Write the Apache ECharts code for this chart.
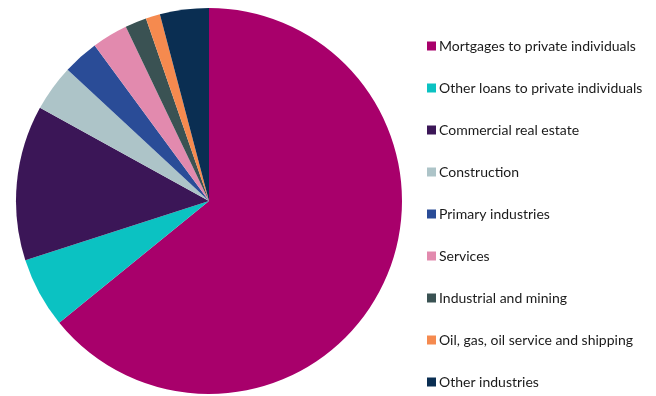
<!DOCTYPE html>
<html>
<head>
<meta charset="utf-8">
<script src="https://cdn.jsdelivr.net/npm/echarts@6/dist/echarts.min.js"></script>
<style>
  html, body { margin: 0; padding: 0; background: #ffffff; }
  #chart { width: 656px; height: 396px; }
</style>
</head>
<body>
<div id="chart"></div>
<script>
// Loan portfolio by sector, share of total (%)
const categories = [
  'Mortgages to private individuals',
  'Other loans to private individuals',
  'Commercial real estate',
  'Construction',
  'Primary industries',
  'Services',
  'Industrial and mining',
  'Oil, gas, oil service and shipping',
  'Other industries'
];
const shares = [64.2, 5.9, 13.0, 3.9, 3.0, 3.0, 1.8, 1.2, 4.1];
const colors = [
  '#A8006B', '#0BC2C2', '#3B1657', '#ADC4C8', '#2A4C97',
  '#E28AAE', '#3A5253', '#F58A4F', '#0A2E52'
];

const chart = echarts.init(document.getElementById('chart'), null, { renderer: 'canvas' });

chart.setOption({
  animation: false,
  color: colors,
  legend: {
    orient: 'vertical',
    left: 422,
    top: 34,
    itemWidth: 9,
    itemHeight: 9,
    itemGap: 28,
    icon: 'rect',
    textStyle: {
      fontFamily: 'Lato',
      fontSize: 14,
      color: '#1a1a1a',
      padding: [0, 0, 0, -2]
    },
    data: categories
  },
  series: [{
    type: 'pie',
    center: [209, 201],
    radius: [0, 193],
    startAngle: 90,
    clockwise: true,
    label: { show: false },
    labelLine: { show: false },
    itemStyle: { borderWidth: 0 },
    emphasis: { disabled: true },
    data: categories.map((name, i) => ({ name, value: shares[i] }))
  }]
});
</script>
</body>
</html>
